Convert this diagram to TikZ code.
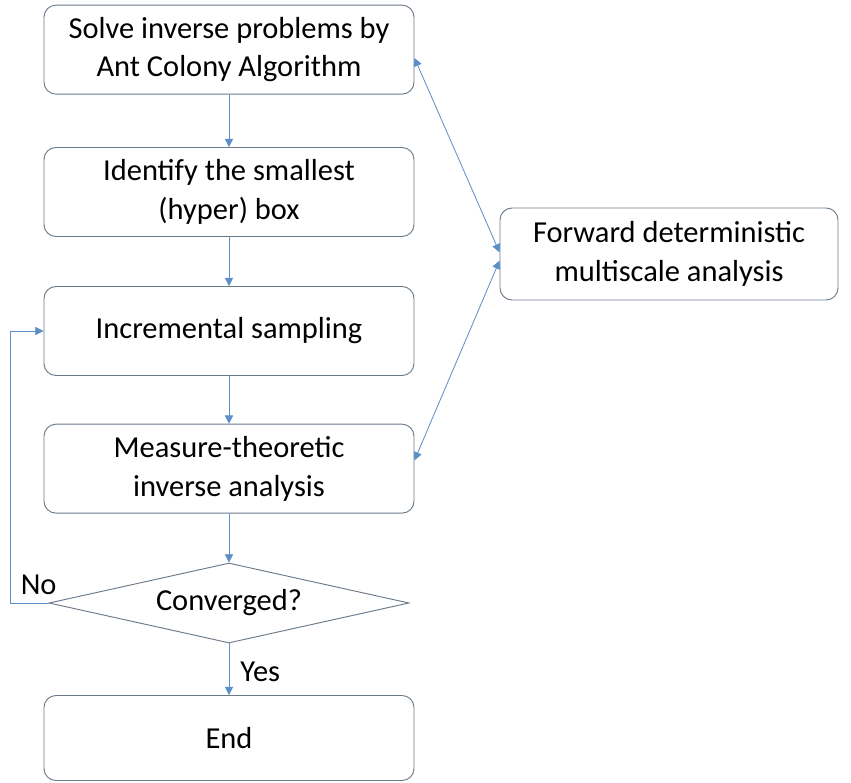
\documentclass[tikz,border=0pt]{standalone}
\usepackage{fontspec}
\setmainfont{Carlito}
\usepackage{tikz}
\usetikzlibrary{shapes.geometric, arrows.meta, positioning, calc}
\definecolor{boxline}{HTML}{6A7A8A}
\definecolor{arrowblue}{HTML}{5B8FC6}
\tikzset{
    stepbox/.style={rectangle, draw=boxline, line width=0.8pt, fill=white, minimum width=11.1cm, minimum height=2.67cm, text centered, align=center, rounded corners=0.36cm, font=\fontsize{26}{33}\selectfont},
    sidebox/.style={stepbox, minimum width=10.14cm, minimum height=2.76cm},
    check/.style={diamond, draw=boxline, line width=0.8pt, fill=white, aspect=4.5, minimum width=10.8cm, minimum height=2.4cm, inner sep=0pt, font=\fontsize{26}{33}\selectfont},
    line/.style={draw=arrowblue, line width=0.7pt, -{Triangle[length=7pt, width=7pt]}},
    biline/.style={draw=arrowblue, line width=0.7pt, {Triangle[length=7pt, width=7pt]}-{Triangle[length=7pt, width=7pt]}},
    tag/.style={font=\fontsize{26}{30}\selectfont},
}

\begin{document}
\begin{tikzpicture}

    \useasboundingbox (0, 0) rectangle (25.53, 23.46);

    % Main loop
    \node[stepbox] (solve) at (6.87, 21.97) {Solve inverse problems by\\Ant Colony Algorithm};
    \node[stepbox] (hyperbox) at (6.87, 17.70) {Identify the smallest\\(hyper) box};
    \node[stepbox] (sampling) at (6.87, 13.53) {Incremental sampling};
    \node[stepbox] (measure) at (6.87, 9.40) {Measure-theoretic\\inverse analysis};
    \node[check] (conv) at (6.87, 5.37) {Converged?};
    \node[stepbox, minimum height=2.55cm] (finish) at (6.87, 1.32) {End};

    % Forward model
    \node[sidebox] (forward) at (20.07, 15.84) {Forward deterministic\\multiscale analysis};

    \path[line] (solve) -- (hyperbox);
    \path[line] (hyperbox) -- (sampling);
    \path[line] (sampling) -- (measure);
    \path[line] (measure) -- (conv);
    \path[line] (conv) -- node[tag, right=6pt, pos=0.55] (yes) {Yes} (finish);

    % No: back to sampling
    \coordinate (corner) at (0.3, 5.37);
    \path[line] (conv.west) -- (corner) |- (sampling.west);
    \node[tag, above right=0.12cm and 0.2cm of corner] (no) {No};

    % Coupling with the forward model
    \path[biline] ([yshift=-0.25cm]solve.east) -- ([yshift=0.05cm]forward.west);
    \path[biline] ([yshift=0.25cm]measure.east) -- ([yshift=-0.2cm]forward.west);

\end{tikzpicture}
\end{document}
